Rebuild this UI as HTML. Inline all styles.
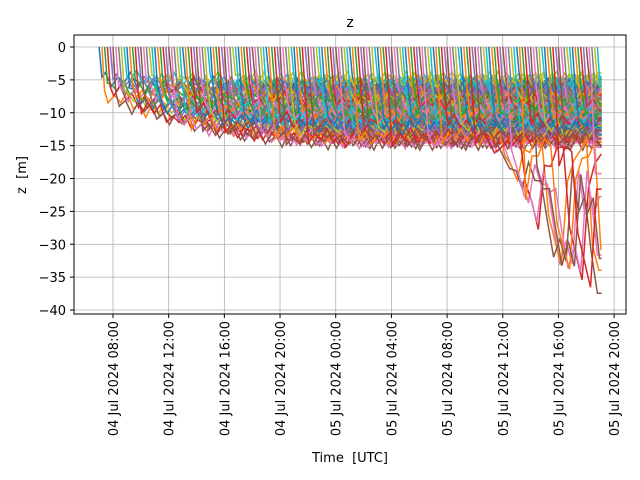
<!DOCTYPE html>
<html><head><meta charset="utf-8"><style>
body{margin:0;background:#fff}
svg{display:block;font-family:"DejaVu Sans","Liberation Sans",sans-serif}
</style></head><body>
<svg id="chart" width="640" height="480" viewBox="0 0 640 480">
<rect x="0" y="0" width="640" height="480" fill="#fff"/>
<text x="350" y="27" font-size="14" text-anchor="middle">z</text>
<text transform="translate(26,175) rotate(-90)" font-size="13" text-anchor="middle" xml:space="preserve">z  [m]</text>
<text x="350" y="462" font-size="13" text-anchor="middle" xml:space="preserve">Time  [UTC]</text>
<g id="grid"></g>
<g id="series" clip-path="url(#clip)"></g>
<defs><clipPath id="clip"><rect x="74" y="35" width="552" height="279"/></clipPath></defs>
<rect x="74" y="35" width="552" height="279" fill="none" stroke="#000" stroke-width="1"/>
<g id="ticks"></g>
</svg>
<script>
const xTickHours = [8,12,16,20,24,28,32,36,40,44];
const xTickLabels = ["04 Jul 2024 08:00","04 Jul 2024 12:00","04 Jul 2024 16:00","04 Jul 2024 20:00","05 Jul 2024 00:00","05 Jul 2024 04:00","05 Jul 2024 08:00","05 Jul 2024 12:00","05 Jul 2024 16:00","05 Jul 2024 20:00"];
const yTicks = [0,-5,-10,-15,-20,-25,-30,-35,-40];
const envHours = [7,8,9,10,12,14,16,20,24,28,32,34,35,36,37,38,39,40,41,42,43.1];
const envDepth = [-7,-8,-8.5,-9.5,-11,-12,-13,-14,-14.5,-14.5,-14.5,-15,-15.5,-17,-20,-25,-30,-33,-34,-36,-38];
const starts = [7.0,7.2,7.4,7.6,7.8,8.0,8.2,8.4,8.6,8.8,9.0,9.2,9.4,9.6,9.8,10.0,10.2,10.4,10.6,10.8,11.0,11.2,11.4,11.6,11.8,12.0,12.2,12.4,12.6,12.8,13.0,13.2,13.4,13.6,13.8,14.0,14.2,14.4,14.6,14.8,15.0,15.2,15.4,15.6,15.8,16.0,16.2,16.4,16.6,16.8,17.0,17.2,17.4,17.6,17.8,18.0,18.2,18.4,18.6,18.8,19.0,19.2,19.4,19.6,19.8,20.0,20.2,20.4,20.6,20.8,21.0,21.2,21.4,21.6,21.8,22.0,22.2,22.4,22.6,22.8,23.0,23.2,23.4,23.6,23.8,24.0,24.2,24.4,24.6,24.8,25.0,25.2,25.4,25.6,25.8,26.0,26.2,26.4,26.6,26.8,27.0,27.2,27.4,27.6,27.8,28.0,28.2,28.4,28.6,28.8,29.0,29.2,29.4,29.6,29.8,30.0,30.2,30.4,30.6,30.8,31.0,31.2,31.4,31.6,31.8,32.0,32.2,32.4,32.6,32.8,33.0,33.2,33.4,33.6,33.8,34.0,34.2,34.4,34.6,34.8,35.0,35.2,35.4,35.6,35.8,36.0,36.2,36.4,36.6,36.8,37.0,37.2,37.4,37.6,37.8,38.0,38.2,38.4,38.6,38.8,39.0,39.2,39.4,39.6,39.8,40.0,40.2,40.4,40.6,40.8,41.0,41.2,41.4,41.6,41.8,42.0,42.2,42.4,42.6,42.8];
const levels = [0.2,0.9,0.5,0.7,0.3,0.97,0.6,0.4,0.8,0.15,0.75,0.55,0.35,0.92,0.25,0.85,0.45,0.65,0.1,0.5,0.7,0.3,0.6,0.4,0.8,0.2,0.95,0.55,0.35,0.68];
const wiggle = [0.8,-1.2,0.3,-0.6,1.1,-0.9,0.2,-1.5,0.7,-0.3,1.3,-0.8,0.5,-1.0,0.9,-0.4,1.2,-1.1,0.1,-0.7,0.6,-1.3,0.4,-0.2];
const spikes = [0.9,0.2,1.0,0.45,0.1,0.8,0.6,0.05,0.95,0.35,0.7,0.25,0.0,0.85,0.5,0.15,1.0,0.4,0.65,0.3,0.75];
const colors = ["#1f77b4","#ff7f0e","#2ca02c","#d62728","#9467bd","#8c564b","#e377c2","#7f7f7f","#bcbd22","#17becf"];

const NS="http://www.w3.org/2000/svg";
const X = h => 113 + (h-8)*13.92;
const Y = v => 47 - v*6.575;
function env(h){
  if(h<=envHours[0]) return envDepth[0];
  for(let i=1;i<envHours.length;i++){
    if(h<=envHours[i]){const f=(h-envHours[i-1])/(envHours[i]-envHours[i-1]);return envDepth[i-1]+f*(envDepth[i]-envDepth[i-1]);}
  }
  return envDepth[envDepth.length-1];
}
const grid=document.getElementById('grid'), ticks=document.getElementById('ticks');
xTickHours.forEach((h,i)=>{
  const l=document.createElementNS(NS,'line');
  
  
  l.setAttribute('x1',X(h));l.setAttribute('x2',X(h));l.setAttribute('y1',35);l.setAttribute('y2',314);
  l.setAttribute('stroke','#b0b0b0');l.setAttribute('stroke-width','0.8');grid.appendChild(l);
  const t=document.createElementNS(NS,'line');
  
  
  t.setAttribute('x1',X(h));t.setAttribute('x2',X(h));t.setAttribute('y1',314);t.setAttribute('y2',318);t.setAttribute('stroke','#000');ticks.appendChild(t);
  const tx=document.createElementNS(NS,'text');
  
  
  tx.setAttribute('font-size','13');tx.setAttribute('text-anchor','end');
  tx.setAttribute('transform',`translate(${X(h)+5},321) rotate(-90)`);
  tx.textContent=xTickLabels[i];ticks.appendChild(tx);
});
yTicks.forEach(v=>{
  const l=document.createElementNS(NS,'line');
  
  
  l.setAttribute('x1',74);l.setAttribute('x2',626);l.setAttribute('y1',Y(v));l.setAttribute('y2',Y(v));
  l.setAttribute('stroke','#b0b0b0');l.setAttribute('stroke-width','0.8');grid.appendChild(l);
  const t=document.createElementNS(NS,'line');
  
  
  t.setAttribute('x1',70);t.setAttribute('x2',74);t.setAttribute('y1',Y(v));t.setAttribute('y2',Y(v));t.setAttribute('stroke','#000');ticks.appendChild(t);
  const tx=document.createElementNS(NS,'text');
  
  
  tx.setAttribute('font-size','13');tx.setAttribute('text-anchor','end');
  tx.setAttribute('x',66);tx.setAttribute('y',Y(v)+5);
  tx.textContent=(v<0?'\u2212'+(-v):v);ticks.appendChild(tx);
});
const sg=document.getElementById('series');
const END=43.1;
starts.forEach((s,i)=>{
  const lv=levels[i%levels.length];
  const pts=[[X(s),Y(0)]];
  let k=i;
  const d1=-4-3*lv;
  pts.push([X(s+0.2),Y(d1)]);
  const deep = lv>0.88 && s>30;
  for(let h=s+0.45;h<END;h+=0.45){
    const e=env(h);
    let d;
    const base=-4+(Math.max(e,-14.5)+4)*lv+wiggle[k%wiggle.length];
    if(h>35 && deep){
      const sp=spikes[(k*3+i)%spikes.length];
      d=base+(e-base)*sp;
    } else d=base;
    if(d>-2) d=-2;
    pts.push([X(h),Y(d)]);k++;
  }
  const last=pts[pts.length-1][1];
  pts.push([X(END),last]);
  const p=document.createElementNS(NS,'polyline');
  
  
  p.setAttribute('points',pts.map(q=>q[0].toFixed(1)+','+q[1].toFixed(1)).join(' '));
  p.setAttribute('fill','none');p.setAttribute('stroke',colors[i%10]);p.setAttribute('stroke-width','1.5');
  sg.appendChild(p);
});
</script>
</body></html>
